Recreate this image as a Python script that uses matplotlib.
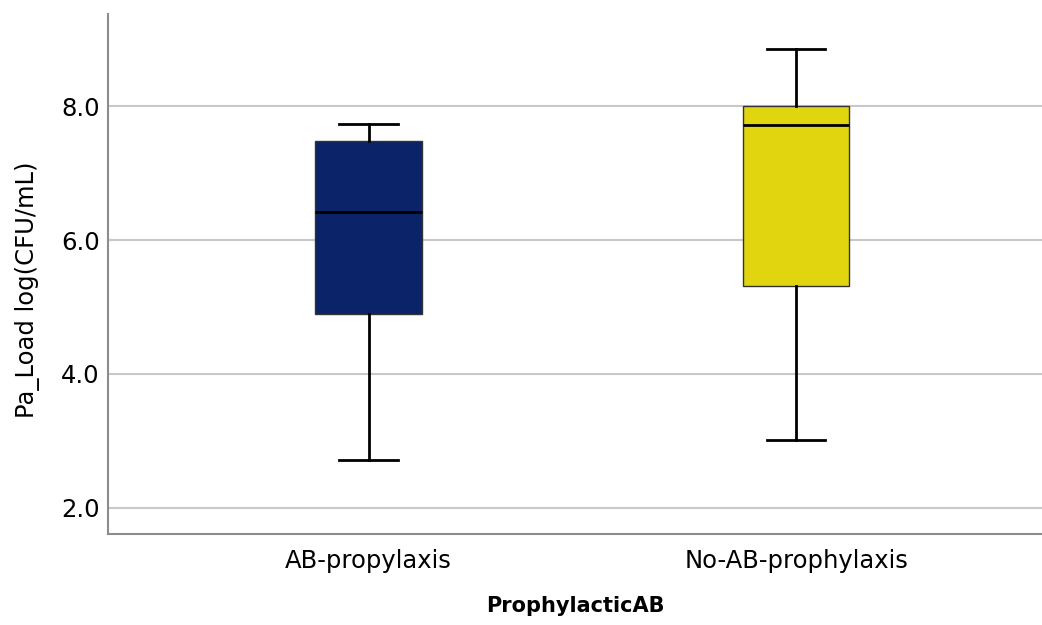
import matplotlib.pyplot as plt
import matplotlib

matplotlib.rcParams["font.family"] = "DejaVu Sans"

# data
groups = ["AB-propylaxis", "No-AB-prophylaxis"]
whislo = [2.72, 3.01]
q1 = [4.90, 5.31]
med = [6.42, 7.72]
q3 = [7.48, 8.00]
whishi = [7.73, 8.85]
colors = ["#0A2369", "#E1D510"]

stats = []
for i in range(len(groups)):
    stats.append({"label": groups[i], "whislo": whislo[i], "q1": q1[i],
                  "med": med[i], "q3": q3[i], "whishi": whishi[i], "fliers": []})

fig = plt.figure(figsize=(10.42, 6.25), dpi=100)
ax = fig.add_axes([0.1036, 0.1456, 0.8964, 0.8324])

bp = ax.bxp(stats, positions=[0, 1], widths=0.248, patch_artist=True,
            showfliers=False,
            boxprops=dict(edgecolor="#333333", linewidth=1.0),
            medianprops=dict(color="black", linewidth=2.0),
            whiskerprops=dict(color="black", linewidth=2.0),
            capprops=dict(color="black", linewidth=2.0),
            capwidths=0.136)
for patch, c in zip(bp["boxes"], colors):
    patch.set_facecolor(c)
    patch.set_zorder(3)
for key in ["medians", "whiskers", "caps"]:
    for ln in bp[key]:
        ln.set_zorder(4)

ax.set_xlim(-0.609, 1.574)
ax.set_ylim(1.61, 9.38)
ax.set_yticks([2, 4, 6, 8])
ax.set_yticklabels(["2.0", "4.0", "6.0", "8.0"], fontsize=17.5)
ax.set_xticks([0, 1])
ax.set_xticklabels(groups, fontsize=17.5)
ax.tick_params(axis="y", length=0, pad=6)
ax.tick_params(axis="x", length=0, pad=11)
ax.yaxis.grid(True, color="#C8C8C8", linewidth=1.5)
ax.set_axisbelow(True)

for s in ["top", "right"]:
    ax.spines[s].set_visible(False)
for s in ["left", "bottom"]:
    ax.spines[s].set_color("#8C8C8C")
    ax.spines[s].set_linewidth(1.5)

ax.set_ylabel("Pa_Load log(CFU/mL)", fontsize=17.5, labelpad=15, y=0.47)
ax.set_xlabel("ProphylacticAB", fontsize=15, fontweight="bold", labelpad=16)

plt.savefig("out.png", dpi=100)
